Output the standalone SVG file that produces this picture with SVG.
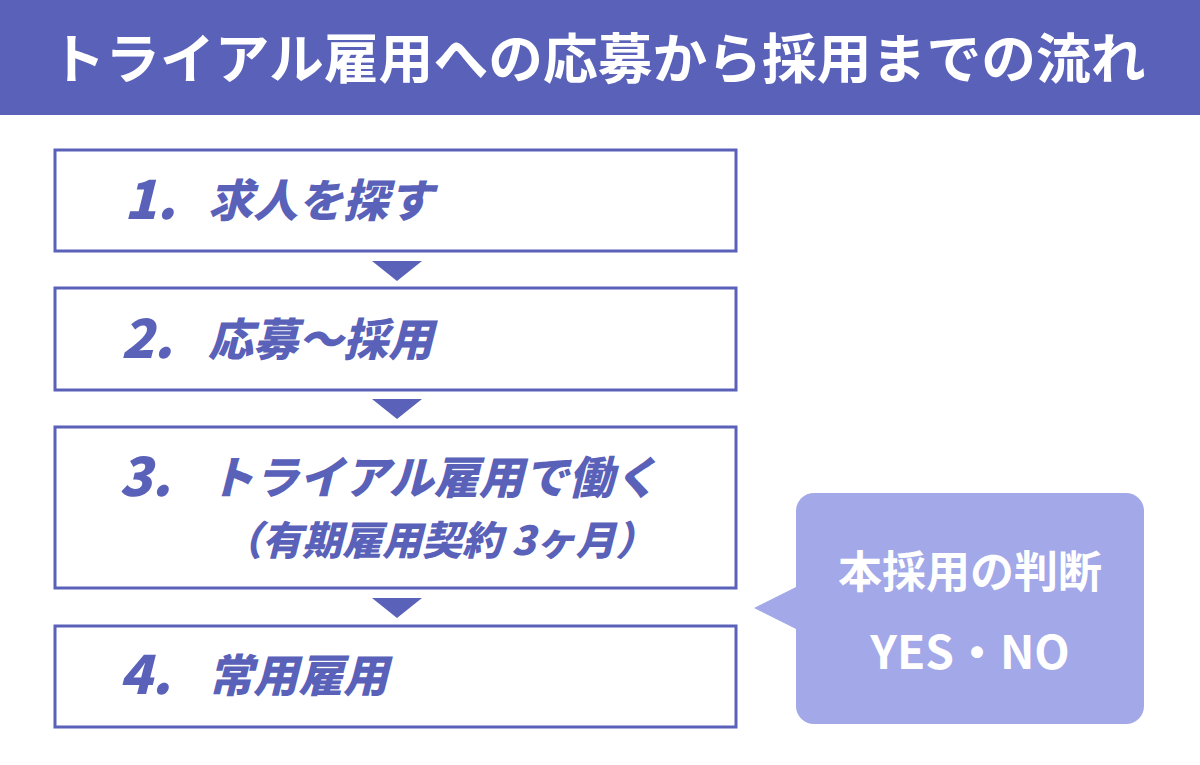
<svg xmlns="http://www.w3.org/2000/svg" width="1200" height="765" viewBox="0 0 1200 765">
<style>
.box{fill:#fff;stroke:#5A61B9;stroke-width:3}
.arr{fill:#5A61B9}
.num{font-family:"Noto Sans CJK JP","Noto Sans",sans-serif;font-weight:900;font-style:italic;font-size:54px;fill:#5A61B9}
.lbl{font-family:"Noto Sans CJK JP",sans-serif;font-weight:900;font-style:italic;font-size:45px;fill:#5A61B9}
.sub{font-family:"Noto Sans CJK JP",sans-serif;font-weight:900;font-style:italic;font-size:40px;fill:#5A61B9}
.wt{font-family:"Noto Sans CJK JP","Noto Sans",sans-serif;font-weight:bold;fill:#fff;text-anchor:middle}
</style>
<rect width="1200" height="765" fill="#fff"/>
<g id="title">
<rect x="0" y="0" width="1200" height="115" fill="#5A61B9"/>
<text class="wt" x="598" y="79" font-size="54" font-weight="900" textLength="1095" lengthAdjust="spacingAndGlyphs">トライアル雇用への応募から採用までの流れ</text>
</g>
<g id="connectors">
<polygon class="arr" points="372,261 422,261 397,281"/>
<polygon class="arr" points="372,399 422,399 397,419"/>
<polygon class="arr" points="372,598 422,598 397,618"/>
</g>
<g id="step1">
<rect class="box" x="55" y="150" width="681" height="101"/>
<text class="num" x="124" y="219">1.</text>
<text class="lbl" x="208" y="217">求人を探す</text>
</g>
<g id="step2">
<rect class="box" x="55" y="288" width="681" height="102"/>
<text class="num" x="121" y="358">2.</text>
<text class="lbl" x="208" y="356">応募〜採用</text>
</g>
<g id="step3">
<rect class="box" x="55" y="427" width="681" height="161"/>
<text class="num" x="119" y="496">3.</text>
<text class="lbl" x="209" y="494">トライアル雇用で働く</text>
<text class="sub" x="222" y="555">（有期雇用契約 3ヶ月）</text>
</g>
<g id="step4">
<rect class="box" x="55" y="626" width="681" height="101"/>
<text class="num" x="119" y="694">4.</text>
<text class="lbl" x="208" y="692">常用雇用</text>
</g>
<g id="callout">
<rect x="796" y="493" width="348" height="231" rx="18" fill="#A3A8E8"/>
<polygon points="754,608 798,586 798,630" fill="#A3A8E8"/>
<text class="wt" x="970" y="588" font-size="44">本採用の判断</text>
<text class="wt" x="970" y="669" font-size="46">YES・NO</text>
</g>
</svg>
